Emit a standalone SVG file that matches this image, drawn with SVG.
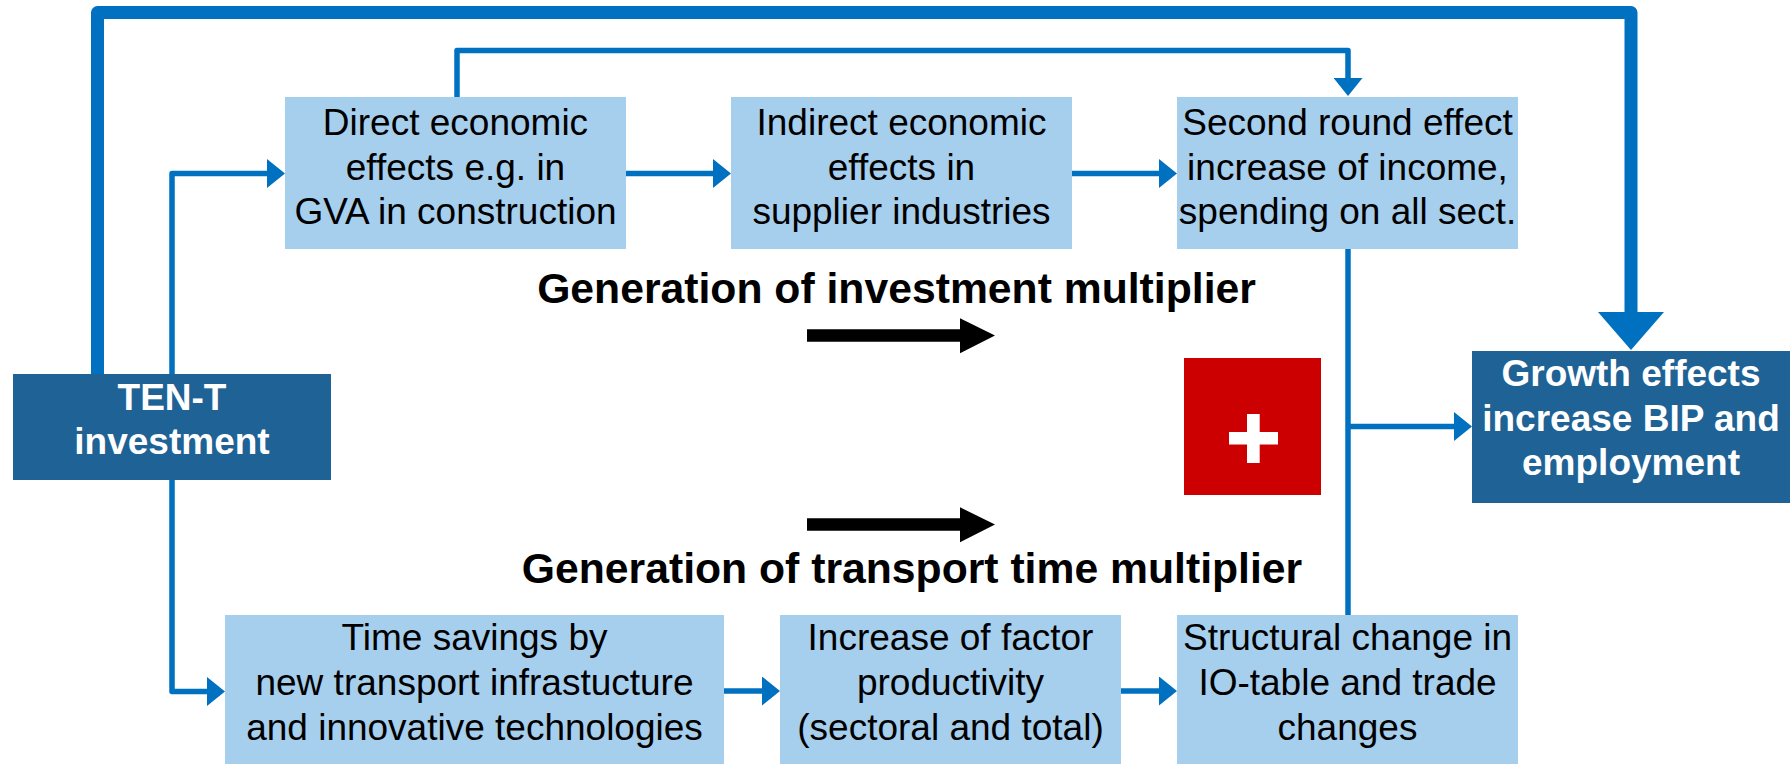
<svg xmlns="http://www.w3.org/2000/svg" width="1790" height="764" viewBox="0 0 1790 764">
  <style>
    .light { fill: #A6CEED; }
    .dark { fill: #1F6295; }
    .t { font-family: "Liberation Sans", Arial, sans-serif; font-size: 37px; text-anchor: middle; fill: #000; }
    .tw { font-family: "Liberation Sans", Arial, sans-serif; font-size: 37px; font-weight: bold; text-anchor: middle; fill: #fff; }
    .head { font-family: "Liberation Sans", Arial, sans-serif; font-size: 42.7px; font-weight: bold; text-anchor: middle; fill: #000; }
    .conn { fill: none; stroke: #0070C0; stroke-width: 5.5; stroke-linejoin: round; }
    .thick { fill: none; stroke: #0070C0; stroke-width: 13; stroke-linejoin: round; }
  </style>
  <defs>
    <marker id="arrow" markerUnits="userSpaceOnUse" viewBox="0 0 18 29" refX="0" refY="14.5" markerWidth="18" markerHeight="29" orient="auto">
      <path d="M0,0 L18,14.5 L0,29 Z" fill="#0070C0"/>
    </marker>
    <marker id="bigArrow" markerUnits="userSpaceOnUse" viewBox="0 0 38 66" refX="0" refY="33" markerWidth="38" markerHeight="66" orient="auto">
      <path d="M0,0 L38,33 L0,66 Z" fill="#0070C0"/>
    </marker>
  </defs>

  <!-- connectors -->
  <g id="connectors">
    <!-- TEN-T straight to growth effects -->
    <path class="thick" d="M97.5,376 L97.5,12.5 L1631,12.5 L1631,312" marker-end="url(#bigArrow)"/>
    <!-- TEN-T to direct effects -->
    <path class="conn" d="M172,374 L172,173.5 L267,173.5" marker-end="url(#arrow)"/>
    <!-- TEN-T to time savings -->
    <path class="conn" d="M172,480 L172,691.5 L207,691.5" marker-end="url(#arrow)"/>
    <!-- direct to indirect -->
    <path class="conn" d="M626,173.5 L713,173.5" marker-end="url(#arrow)"/>
    <!-- indirect to second round -->
    <path class="conn" d="M1072,173.5 L1159,173.5" marker-end="url(#arrow)"/>
    <!-- direct over the top to second round -->
    <path class="conn" d="M457,97 L457,50.5 L1348,50.5 L1348,78" marker-end="url(#arrow)"/>
    <!-- time savings to factor productivity -->
    <path class="conn" d="M724,691 L762,691" marker-end="url(#arrow)"/>
    <!-- factor productivity to structural change -->
    <path class="conn" d="M1121,691 L1159,691" marker-end="url(#arrow)"/>
    <!-- second round and structural change joined into growth effects -->
    <path class="conn" d="M1348,249 L1348,615"/>
    <path class="conn" d="M1348,426.5 L1454,426.5" marker-end="url(#arrow)"/>
  </g>

  <!-- multiplier headings with black arrows -->
  <g id="labels">
    <text class="head" x="896.5" y="303">Generation of investment multiplier</text>
    <polygon points="807,329.3 960,329.3 960,318.3 995,335.5 960,353.3 960,341.7 807,341.7" fill="#000"/>
    <polygon points="807,518.3 960,518.3 960,507.3 995,524.5 960,542.3 960,530.7 807,530.7" fill="#000"/>
    <text class="head" x="912" y="583">Generation of transport time multiplier</text>
  </g>

  <!-- plus sign -->
  <g id="plus">
    <rect x="1184" y="358" width="137" height="137" fill="#CC0000"/>
    <rect x="1229" y="432" width="49" height="12.5" fill="#fff"/>
    <rect x="1247" y="414" width="12.7" height="49" fill="#fff"/>
  </g>

  <g id="ten-t">
    <rect class="dark" x="13" y="374" width="318" height="106"/>
    <text class="tw" x="172" y="410">TEN-T</text>
    <text class="tw" x="172" y="454">investment</text>
  </g>

  <g id="direct">
    <rect class="light" x="285" y="97" width="341" height="152"/>
    <text class="t" x="455.5" y="135">Direct economic</text>
    <text class="t" x="455.5" y="180">effects e.g. in</text>
    <text class="t" x="455.5" y="224">GVA in construction</text>
  </g>

  <g id="indirect">
    <rect class="light" x="731" y="97" width="341" height="152"/>
    <text class="t" x="901.5" y="135">Indirect economic</text>
    <text class="t" x="901.5" y="180">effects in</text>
    <text class="t" x="901.5" y="224">supplier industries</text>
  </g>

  <g id="second-round">
    <rect class="light" x="1177" y="97" width="341" height="152"/>
    <text class="t" x="1347.5" y="135">Second round effect</text>
    <text class="t" x="1347.5" y="180">increase of income,</text>
    <text class="t" x="1347.5" y="224">spending on all sect.</text>
  </g>

  <g id="growth">
    <rect class="dark" x="1472" y="351" width="318" height="152"/>
    <text class="tw" x="1631" y="386">Growth effects</text>
    <text class="tw" x="1631" y="430.5">increase BIP and</text>
    <text class="tw" x="1631" y="475">employment</text>
  </g>

  <g id="time-savings">
    <rect class="light" x="225" y="615" width="499" height="149"/>
    <text class="t" x="474.5" y="650">Time savings by</text>
    <text class="t" x="474.5" y="695">new transport infrastucture</text>
    <text class="t" x="474.5" y="740">and innovative technologies</text>
  </g>

  <g id="factor-productivity">
    <rect class="light" x="780" y="615" width="341" height="149"/>
    <text class="t" x="950.5" y="650">Increase of factor</text>
    <text class="t" x="950.5" y="695">productivity</text>
    <text class="t" x="950.5" y="740">(sectoral and total)</text>
  </g>

  <g id="structural-change">
    <rect class="light" x="1177" y="615" width="341" height="149"/>
    <text class="t" x="1347.5" y="650">Structural change in</text>
    <text class="t" x="1347.5" y="695">IO-table and trade</text>
    <text class="t" x="1347.5" y="740">changes</text>
  </g>
</svg>
